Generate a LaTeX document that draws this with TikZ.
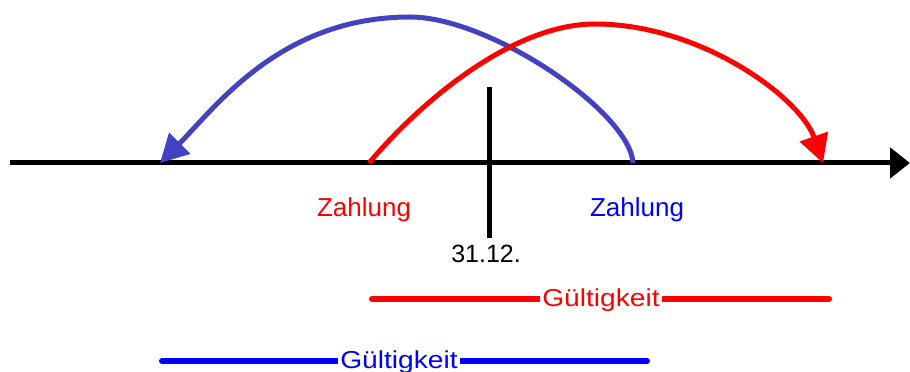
\documentclass[tikz,border=0pt]{standalone}
\usepackage{fontspec}
\setmainfont{Liberation Sans}
\usetikzlibrary{arrows.meta}
\definecolor{arcblue}{RGB}{66,66,194}
\definecolor{pureblue}{RGB}{0,0,255}
\definecolor{purered}{RGB}{255,0,0}
\tikzset{
  axis/.style={line width=5pt, -{Triangle[length=20pt,width=30pt]}},
  tick/.style={line width=5pt},
  arcline/.style={line width=5pt, -{Triangle[length=28pt,width=29pt]}},
  validline/.style={line width=6pt, line cap=round},
  lbl/.style={inner sep=0pt, anchor=base, font=\fontsize{26}{30}\selectfont},
  datelbl/.style={inner sep=0pt, anchor=base, font=\fontsize{25}{30}\selectfont},
  validlbl/.style={inner xsep=2pt, inner ysep=0pt, anchor=base, fill=white, font=\fontsize{24.5}{30}\selectfont},
}
\begin{document}
\begin{tikzpicture}[x=1pt,y=1pt]
\useasboundingbox (0,0) rectangle (910,372);
% axis
\coordinate (axL) at (10,209);
\coordinate (axR) at (910,209);
\draw[axis] (axL) -- (axR);
% tick
\coordinate (tkT) at (489,285);
\coordinate (tkB) at (489,134);
\draw[tick] (tkT) -- (tkB);
% payments
\coordinate (redStart) at (369,209);
\coordinate (redPeak) at (595,348);
\coordinate (redEnd) at (823,209);
\coordinate (blueStart) at (633,209);
\coordinate (bluePeak) at (410,355);
\coordinate (blueEnd) at (160,209);
\draw[arcline, arcblue] (blueStart) .. controls (630,260) and (490,355) .. (bluePeak)
   .. controls (280,355) and (215,264) .. (blueEnd);
\draw[arcline, purered] (redStart) .. controls (425,275) and (515,348) .. (redPeak)
   .. controls (700,348) and (800,275) .. (redEnd);
% labels
\node[lbl, text=purered] (zR) at (364,155) {Zahlung};
\node[lbl, text=pureblue] (zB) at (637,155) {Zahlung};
\node[datelbl] (date) at (486,109) {31.12.};
% validity
\coordinate (rvL) at (372,73);
\coordinate (rvR) at (829,73);
\draw[validline, purered] (rvL) -- (rvR);
\node[validlbl, text=purered] (gR) at (601,65) {\scalebox{1.15}[1]{Gültigkeit}};
\coordinate (bvL) at (162,11);
\coordinate (bvR) at (647,11);
\draw[validline, pureblue] (bvL) -- (bvR);
\node[validlbl, text=pureblue] (gB) at (399,3) {\scalebox{1.15}[1]{Gültigkeit}};
\end{tikzpicture}
\end{document}
